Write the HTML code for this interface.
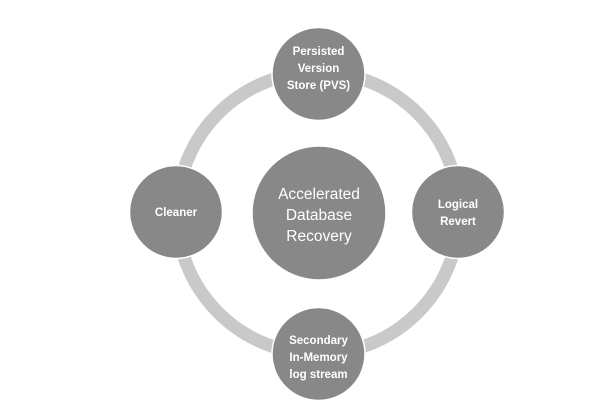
<!DOCTYPE html>
<html><head><meta charset="utf-8"><style>
html,body{margin:0;padding:0;background:#fff;}
svg{display:block;}
text{font-family:"Liberation Sans",sans-serif;fill:#fff;text-anchor:middle;font-weight:bold;}
</style></head><body>
<svg width="607" height="416" viewBox="0 0 607 416">
<circle cx="318" cy="213" r="141" fill="none" stroke="#c9c9c9" stroke-width="13"/>
<g fill="#888" stroke="#fff" stroke-width="1.5">
<circle cx="318.5" cy="74" r="46.5"/>
<circle cx="176" cy="212" r="46.5"/>
<circle cx="458" cy="212" r="46.5"/>
<circle cx="318.5" cy="354" r="46.5"/>
<circle cx="319" cy="213" r="67"/>
</g>
<g font-size="11.5">
<text x="318.5" y="55">Persisted</text>
<text x="318.5" y="72">Version</text>
<text x="318.5" y="89">Store (PVS)</text>
<text x="176" y="216">Cleaner</text>
<text x="458" y="208">Logical</text>
<text x="458" y="225">Revert</text>
<text x="318.5" y="344">Secondary</text>
<text x="318.5" y="361">In-Memory</text>
<text x="318.5" y="378">log stream</text>
</g>
<g font-size="15.5" font-weight="normal">
<text x="319" y="199" style="font-weight:normal">Accelerated</text>
<text x="319" y="220" style="font-weight:normal">Database</text>
<text x="319" y="241" style="font-weight:normal">Recovery</text>
</g>
</svg>
</body></html>
